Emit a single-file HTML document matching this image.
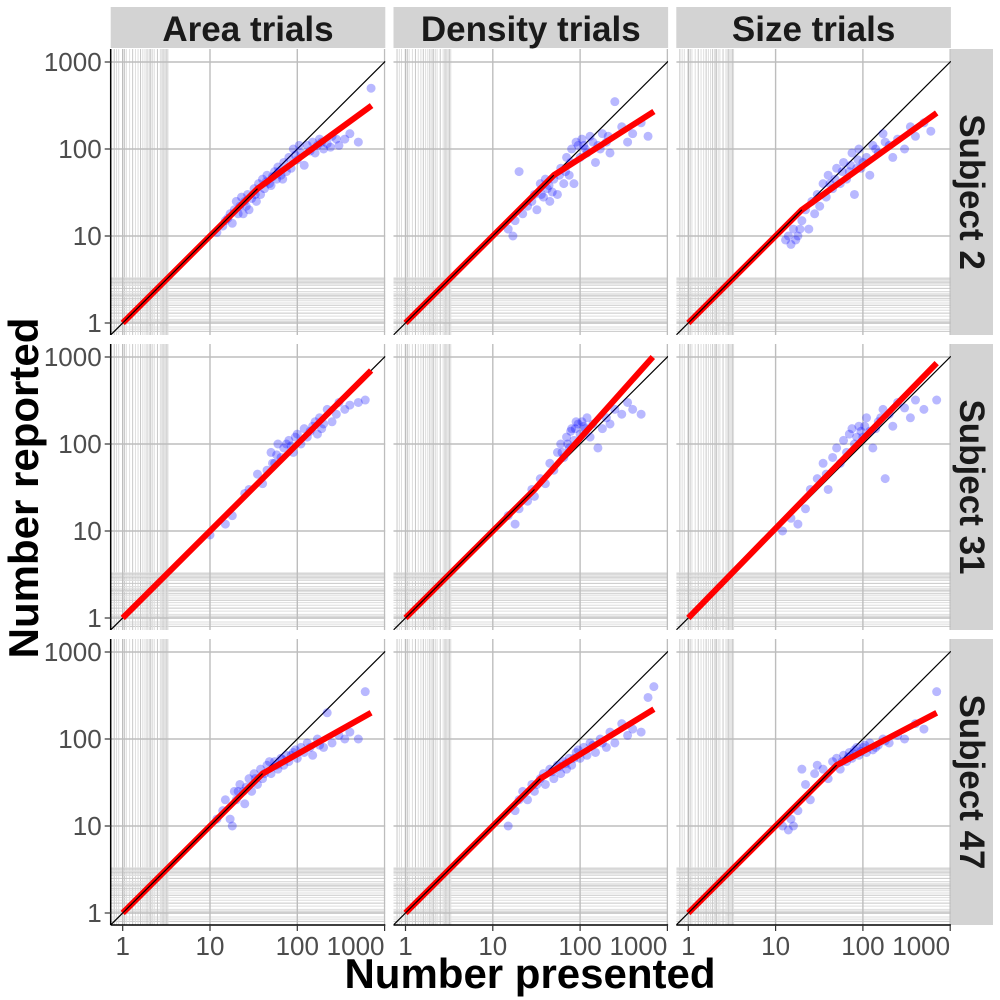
<!DOCTYPE html>
<html><head><meta charset="utf-8">
<style>
html,body{margin:0;padding:0;background:#fff;}
svg{display:block;font-family:"Liberation Sans",Arial,sans-serif;}
</style></head>
<body>
<svg id="chart" width="1000" height="1000" viewBox="0 0 1000 1000"></svg>
<script>
const colLabels = ["Area trials","Density trials","Size trials"];
const rowLabels = ["Subject 2","Subject 31","Subject 47"];
const xTicks = [1,10,100,1000];
const yTicks = [1,10,100,1000];
const minorGrid = [0.8,0.85,0.9,1.05,1.1,1.2,1.3,1.4,1.5,1.6,1.7,1.8,1.9,2,2.05,2.1,2.2,2.3,2.5,2.7,2.8,2.9,3,3.1,3.2,3.3];
// red fit line per panel: breakpoint x, end x, end y (row-major)
const fitBreak = [35,50,20, 1,30,1, 40,35,50];
const fitEndX = [710,700,700, 700,680,700, 700,700,700];
const fitEndY = [315,270,260, 700,1000,850, 200,220,200];
// scatter points per panel [presented, reported]
const pts11 = [[12,11],[14,13],[15,15],[17,18],[18,14],[19,20],[20,25],[22,22],[24,18],[25,25],[27,30],[28,20],[30,27],[32,35],[34,25],[36,40],[38,30],[40,45],[42,35],[45,50],[48,40],[50,38],[55,55],[58,45],[60,62],[65,50],[70,70],[75,55],[80,80],[85,60],[90,100],[100,75],[110,90],[120,65],[130,110],[150,120],[160,90],[180,130],[200,100],[220,115],[250,140],[300,110],[350,130],[400,150],[500,120],[700,500],[16,16],[21,18],[23,28],[26,22],[33,30],[44,42],[52,48],[62,55],[68,45],[95,85],[105,110],[140,95],[170,110],[190,120],[240,105],[280,130]];
const pts12 = [[15,12],[17,10],[18,15],[20,55],[22,18],[25,22],[28,25],[30,30],[32,20],[35,40],[38,28],[40,45],[42,35],[45,25],[50,45],[55,30],[60,60],[65,40],[70,80],[75,50],[80,100],[85,40],[90,120],[100,80],[110,110],[120,90],[130,140],[150,70],[160,110],[180,150],[200,120],[220,90],[250,350],[300,180],[350,120],[400,150],[500,200],[600,140],[36,30],[44,38],[48,32],[58,50],[68,55],[78,70],[95,110],[105,130],[115,100],[140,120],[170,100],[210,140]];
const pts13 = [[13,9],[15,8],[16,12],[18,10],[20,15],[22,20],[24,12],[26,25],[28,18],[30,30],[32,22],[35,40],[38,28],[40,50],[45,35],[50,60],[55,40],[60,70],[65,45],[70,55],[75,90],[80,30],[85,60],[90,100],[100,70],[110,80],[120,50],[130,110],[150,90],[170,150],[200,110],[220,80],[250,130],[300,100],[350,180],[400,140],[500,200],[600,160],[14,10],[17,9],[19,12],[42,40],[48,45],[58,55],[72,65],[88,75],[95,60],[140,100],[180,120]];
const pts21 = [[10,9],[15,12],[18,15],[25,27],[28,30],[35,45],[40,35],[45,50],[50,80],[55,60],[60,100],[65,70],[70,90],[80,110],[90,80],[100,130],[110,100],[120,150],[130,120],[150,160],[170,130],[180,200],[200,170],[220,250],[250,180],[280,220],[300,300],[350,250],[400,280],[500,300],[600,320],[52,60],[58,75],[75,100],[85,95],[95,120],[140,140],[160,180],[190,150]];
const pts22 = [[15,15],[18,12],[20,18],[25,22],[28,30],[30,25],[35,40],[40,35],[45,60],[50,50],[55,80],[60,100],[65,70],[70,120],[75,90],[80,150],[85,110],[90,180],[100,130],[110,160],[120,200],[130,120],[140,170],[160,90],[180,150],[200,200],[220,170],[250,250],[300,220],[350,300],[400,250],[500,220],[78,140],[88,150],[95,170],[105,180],[115,150],[72,100],[62,80]];
const pts23 = [[12,10],[15,14],[18,12],[22,18],[25,30],[30,40],[35,60],[38,45],[40,30],[45,70],[50,90],[55,60],[60,110],[65,80],[70,130],[80,100],[90,160],[100,120],[110,200],[120,140],[130,90],[150,180],[170,250],[180,40],[200,220],[220,160],[250,300],[300,260],[350,200],[400,320],[500,250],[700,320],[75,150],[85,120],[95,140],[105,160],[140,150],[160,200]];
const pts31 = [[12,12],[14,15],[15,20],[17,12],[18,10],[19,25],[20,20],[22,30],[24,25],[25,18],[28,35],[30,25],[32,40],[35,30],[38,45],[40,35],[45,50],[50,40],[55,55],[60,45],[65,60],[70,50],[75,65],[80,55],[90,70],[100,60],[110,80],[120,70],[130,90],[150,65],[170,100],[200,80],[220,200],[250,90],[300,110],[350,100],[400,120],[500,100],[600,350],[21,25],[26,28],[33,35],[42,40],[48,55],[58,50],[68,58],[85,65],[95,75],[140,80],[180,85]];
const pts32 = [[15,10],[18,15],[20,20],[22,25],[25,20],[28,30],[30,25],[35,35],[40,30],[45,45],[50,35],[55,50],[60,40],[65,55],[70,45],[75,60],[80,50],[90,70],[100,60],[110,80],[120,65],[130,90],[150,70],[170,100],[200,80],[220,120],[250,90],[300,150],[350,110],[400,130],[500,120],[600,300],[700,400],[32,30],[38,40],[48,42],[58,48],[68,52],[85,60],[95,75],[140,85],[180,90]];
const pts33 = [[12,10],[14,9],[15,12],[16,10],[18,15],[20,45],[22,30],[25,20],[28,40],[30,50],[35,45],[40,35],[45,55],[50,60],[55,45],[60,65],[65,55],[70,70],[75,60],[80,75],[90,65],[100,80],[110,70],[120,90],[130,75],[150,85],[170,100],[200,90],[250,110],[300,100],[400,150],[500,130],[700,350],[58,55],[68,62],[78,68],[85,80],[95,72],[105,85],[140,80],[180,95]];
const allPts = [pts11,pts12,pts13,pts21,pts22,pts23,pts31,pts32,pts33];

const NS="http://www.w3.org/2000/svg";
const svg=document.getElementById('chart');
function mk(tag,attrs,parent){const e=document.createElementNS(NS,tag);for(const k in attrs)e.setAttribute(k,attrs[k]);(parent||svg).appendChild(e);return e;}
const PW=274.6, PH=286, DEC_X=87.3, DEC_Y=87;
function panelLeft(c){return 110.7+c*282.8;}
function panelTop(r){return 49+r*295;}
function sx(c,v){return 122.7+c*282.8+DEC_X*Math.log10(v);}
function sy(r,v){return panelTop(r)+274-DEC_Y*Math.log10(v);}
function invX(c,px){return Math.pow(10,(px-122.7-c*282.8)/DEC_X);}

for(let c=0;c<3;c++){
  const s=mk('rect',{x:panelLeft(c),y:7,width:PW,height:41,fill:'#d3d3d3'});
  
  
  const t=mk('text',{x:panelLeft(c)+PW/2,y:41,'text-anchor':'middle','font-size':35,'font-weight':'bold',fill:'#1a1a1a'});
  t.textContent=colLabels[c];
  
  
}
for(let r=0;r<3;r++){
  const s=mk('rect',{x:951,y:panelTop(r),width:42,height:PH,fill:'#d3d3d3'});
  
  
  const cx=972, cy=panelTop(r)+PH/2;
  const t=mk('text',{x:cx,y:cy+12,'text-anchor':'middle','font-size':35,'font-weight':'bold',fill:'#1a1a1a',transform:'rotate(90 '+cx+' '+(cy)+')'});
  t.textContent=rowLabels[r];
  
  
}

for(let r=0;r<3;r++){
  for(let c=0;c<3;c++){
    const i=r*3+c;
    const L=panelLeft(c), T=panelTop(r), R=L+PW, B=T+PH;
    const g=mk('g',{});
    
    
    const cid='clip'+i;
    const cp=mk('clipPath',{id:cid},g); mk('rect',{x:L,y:T,width:PW,height:PH},cp);
    const inner=mk('g',{'clip-path':'url(#'+cid+')'},g);
    minorGrid.forEach((v,k)=>{
      const col=(k%3===0)?'#c8c8c8':'#dedede';
      const x=sx(c,v); mk('line',{x1:x,x2:x,y1:T,y2:B,stroke:col,'stroke-width':1},inner);
      const y=sy(r,v); mk('line',{x1:L,x2:R,y1:y,y2:y,stroke:col,'stroke-width':1},inner);
    });
    xTicks.forEach(v=>{const x=sx(c,v);mk('line',{x1:x,x2:x,y1:T,y2:B,stroke:'#bdbdbd','stroke-width':1.4},inner);});
    yTicks.forEach(v=>{const y=sy(r,v);mk('line',{x1:L,x2:R,y1:y,y2:y,stroke:'#bdbdbd','stroke-width':1.4},inner);});
    const lo=invX(c,L), hi=invX(c,R);
    const id=mk('line',{x1:sx(c,lo),y1:sy(r,lo),x2:sx(c,hi),y2:sy(r,hi),stroke:'#000','stroke-width':1.2},inner);
    
    
    allPts[i].forEach(p=>{
      const d=mk('circle',{cx:sx(c,p[0]),cy:sy(r,p[1]),r:4.5,fill:'rgba(0,0,255,0.28)'},inner);
      
      
    });
    const bp=fitBreak[i];
    const pl=[[1,1],[bp,bp],[fitEndX[i],fitEndY[i]]].map(p=>sx(c,p[0]).toFixed(1)+','+sy(r,p[1]).toFixed(1)).join(' ');
    const fl=mk('polyline',{points:pl,fill:'none',stroke:'#ff0000','stroke-width':6,'stroke-linejoin':'round'},inner);
    
    
    mk('line',{x1:sx(c,1),y1:sy(r,1),x2:sx(c,bp),y2:sy(r,bp),stroke:'#000','stroke-width':1.2},inner);
    if(c===0){
      mk('line',{x1:L,x2:L,y1:T,y2:B,stroke:'#000','stroke-width':1.5},g);
      yTicks.forEach(v=>{const y=sy(r,v);
        mk('line',{x1:L-6,x2:L,y1:y,y2:y,stroke:'#333','stroke-width':1.2},g);
        const t=mk('text',{x:L-9,y:y+9,'text-anchor':'end','font-size':26,fill:'#4d4d4d'},g);t.textContent=v;
        
        });
    }
    if(r===2){
      mk('line',{x1:L,x2:R,y1:B,y2:B,stroke:'#000','stroke-width':1.5},g);
      xTicks.forEach((v,k)=>{const x=sx(c,v);
        mk('line',{x1:x,x2:x,y1:B,y2:B+6,stroke:'#333','stroke-width':1.2},g);
        const ax=(k===3)?x-29:x;
        const t=mk('text',{x:ax,y:B+30,'text-anchor':'middle','font-size':26,fill:'#4d4d4d'},g);t.textContent=v;
        
        });
    }
  }
}
const xt=mk('text',{x:530,y:988,'text-anchor':'middle','font-size':42,'font-weight':'bold',fill:'#000'});
xt.textContent='Number presented';


const yt=mk('text',{x:24,y:488,'text-anchor':'middle','font-size':42,'font-weight':'bold',fill:'#000',transform:'rotate(-90 24 488)'});
yt.setAttribute('dy','14');
yt.textContent='Number reported';


</script>
</body></html>
